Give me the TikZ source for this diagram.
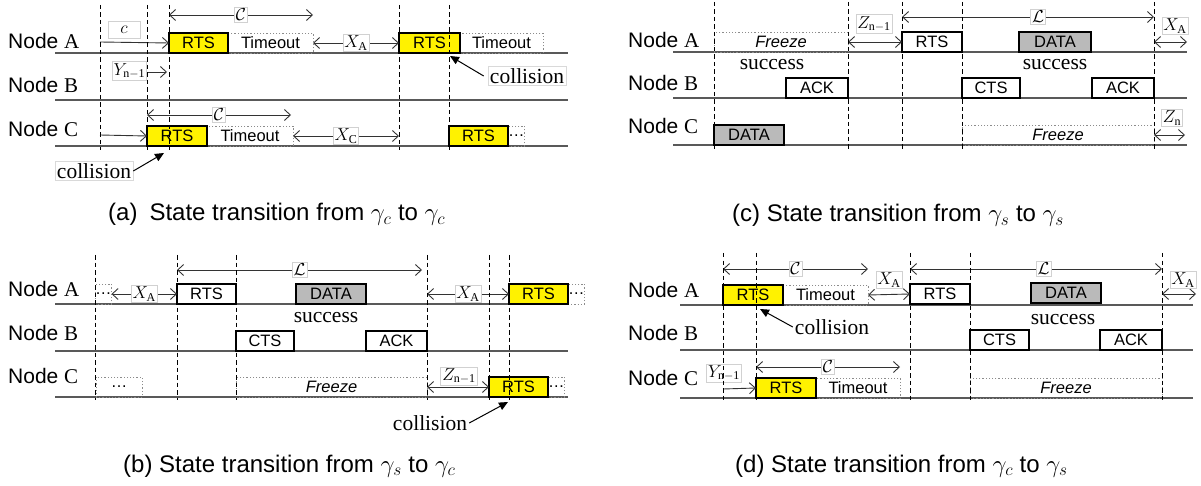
\documentclass[tikz,border=0pt]{standalone}
\usepackage{fontspec}
\setmainfont{Liberation Serif}
\newfontfamily\arial{Liberation Sans}
\usetikzlibrary{arrows.meta}
\tikzset{
 tl/.style={draw=black!65, line width=1.2pt},
 dv/.style={draw=black, line width=0.9pt, dash pattern=on 4.5pt off 3pt},
 pkt/.style={draw=black, line width=1.2pt, inner sep=0pt, outer sep=0pt, minimum height=20pt, font=\arial\fontsize{16.5}{18}\selectfont},
 yel/.style={pkt, fill=yellow},
 wht/.style={pkt, fill=white},
 gry/.style={pkt, fill=black!27},
 dotbox/.style={pkt, draw=black!45, dotted, line width=0.8pt},
 dimarr/.style={draw=black!80, line width=0.9pt, {Straight Barb[length=6pt,width=11pt]}-{Straight Barb[length=6pt,width=11pt]}},
 rdimarr/.style={draw=black!80, line width=0.9pt, -{Straight Barb[length=6pt,width=11pt]}},
 lab/.style={fill=white, draw=black!18, line width=0.6pt, inner sep=1.5pt, font=\fontsize{17.28}{19}\selectfont},
 nodel/.style={anchor=west, font=\arial\fontsize{21}{24}\selectfont, inner sep=0pt},
 wordlab/.style={font=\fontsize{21.5}{24}\selectfont, inner sep=2pt},
 capt/.style={anchor=base west, font=\arial\fontsize{24}{28}\selectfont, inner sep=0pt},
 collarr/.style={draw=black, line width=1pt, -{Triangle[length=9pt,width=8pt]}},
}
\newcommand\pktbox[6]{\node[#1, anchor=south west, minimum width={(#4-#3)*1pt}] (#2) at (#3,#5) {#6};}
\begin{document}
\begin{tikzpicture}[x=1pt,y=-1pt]
\useasboundingbox (0,0) rectangle (1201,486);
% ================= panel (a)
\node[nodel] (aNA) at (8,41) {Node {\rmfamily A}};
\node[nodel] (aNB) at (8,85) {Node {\rmfamily B}};
\node[nodel] (aNC) at (8,129) {Node {\rmfamily C}};
\draw[tl] (55,53) -- (568,53);
\draw[tl] (55,100) -- (568,100);
\draw[tl] (55,146) -- (568,146);
\pktbox{dotbox}{aT1}{228}{313}{53}{Timeout}
\pktbox{yel}{aR1}{169}{228}{53}{RTS}
\pktbox{dotbox}{aT2}{460}{543}{53}{Timeout}
\pktbox{yel}{aR2}{399}{460}{53}{RTS}
\pktbox{dotbox}{aT3}{207}{293}{146}{Timeout}
\pktbox{yel}{aR3}{147}{207}{146}{RTS}
\pktbox{dotbox}{aE4}{508}{523}{146}{\ldots}
\pktbox{yel}{aR4}{449}{508}{146}{RTS}
\draw[dimarr] (169,15) -- (313,15) node[lab, midway] (aL1) {$\mathcal{C}$};
\coordinate (ac0) at (100,42);
\draw[rdimarr] (ac0) -- (aR1.west);
\node[lab, minimum width=32pt, minimum height=17pt] (ac) at (124,30) {$c$};
\draw[dimarr] (aT1.east) -- (aR2.west) node[lab, midway] (aXA) {$X_{\mathrm{A}}$};
\node[lab, anchor=east] (aY) at (147,71) {$Y_{\mathrm{n-1}}$};
\coordinate (aY1) at (167,72);
\draw[rdimarr] (aY.east |- aY1) -- (aY1);
\node[wordlab, draw=black!15, line width=0.6pt] (acol1) at (527,76) {collision};
\coordinate (acolt1) at (450,56);
\draw[collarr] ([xshift=-4pt]acol1.west) -- (acolt1);
\draw[dimarr] (147,115) -- (291,115) node[lab, midway] (aL2) {$\mathcal{C}$};
\coordinate (ac1) at (100,135);
\draw[rdimarr] (ac1) -- (aR3.west);
\draw[dimarr] (aT3.east) -- (aR2.west |- aT3.east) node[lab, midway] (aXC) {$X_{\mathrm{C}}$};
\node[wordlab, draw=black!15, line width=0.6pt] (acol2) at (94,171) {collision};
\coordinate (acolt2) at (164,153);
\draw[collarr] (acol2.east) -- (acolt2);
\foreach \x in {100,147,169,399,449} \draw[dv] (\x,5) -- (\x,150);
\node[capt] (acap) at (108,221) {(a)\enspace State transition from $\gamma_c$ to $\gamma_c$};
% ================= panel (c)
\node[nodel] (cNA) at (628,40) {Node {\rmfamily A}};
\node[nodel] (cNB) at (628,83) {Node {\rmfamily B}};
\node[nodel] (cNC) at (628,126) {Node {\rmfamily C}};
\draw[tl] (673,52) -- (1187,52);
\draw[tl] (673,98) -- (1187,98);
\draw[tl] (673,145) -- (1187,145);
\pktbox{dotbox}{cF1}{714}{848}{52}{\itshape Freeze}
\pktbox{wht}{cK1}{786}{848}{98}{ACK}
\pktbox{gry}{cD1}{714}{784}{145}{DATA}
\pktbox{wht}{cR}{902}{962}{52}{RTS}
\pktbox{gry}{cD2}{1019}{1091}{52}{DATA}
\pktbox{wht}{cC}{962}{1020}{98}{CTS}
\pktbox{wht}{cK2}{1092}{1154}{98}{ACK}
\pktbox{dotbox}{cF2}{962}{1154}{145}{\itshape Freeze}
\node[wordlab] (cs1) at (772,65) {success};
\node[wordlab] (cs2) at (1055,65) {success};
\draw[dimarr] (cF1.east |- cR.west) -- (cR.west);
\node[lab] (cZ1) at (874,24) {$Z_{\mathrm{n-1}}$};
\draw[dimarr] (902,17) -- (1154,17) node[lab, pos=0.54] (cL) {$\mathcal{L}$};
\coordinate (cXe) at (1187,42);
\draw[dimarr] (cK2.east |- cXe) -- (cXe);
\node[lab] (cXA) at (1175,26) {$X_{\mathrm{A}}$};
\coordinate (cZe) at (1185,135);
\draw[dimarr] (cF2.east |- cZe) -- (cZe);
\node[lab] (cZn) at (1172,118) {$Z_{\mathrm{n}}$};
\foreach \x in {714,848,902,962,1154} \draw[dv] (\x,2) -- (\x,150);
\node[capt] (ccap) at (732,222) {(c) State transition from $\gamma_s$ to $\gamma_s$};
% ================= panel (b)
\node[nodel] (bNA) at (8,289) {Node {\rmfamily A}};
\node[nodel] (bNB) at (8,333) {Node {\rmfamily B}};
\node[nodel] (bNC) at (8,376) {Node {\rmfamily C}};
\draw[tl] (55,304) -- (568,304);
\draw[tl] (55,351) -- (568,351);
\draw[tl] (55,397) -- (568,397);
\pktbox{dotbox}{bE1}{95}{111}{304}{\ldots}
\pktbox{wht}{bR1}{177}{236}{304}{RTS}
\pktbox{gry}{bD}{296}{366}{304}{DATA}
\pktbox{wht}{bC}{236}{294}{351}{CTS}
\pktbox{wht}{bK}{366}{427}{351}{ACK}
\pktbox{dotbox}{bE2}{568}{583}{304}{\ldots}
\pktbox{yel}{bR2}{509}{568}{304}{RTS}
\pktbox{dotbox}{bE3}{96}{142}{397}{\ldots}
\pktbox{dotbox}{bF}{236}{427}{397}{\itshape Freeze}
\pktbox{dotbox}{bE4}{548}{563}{397}{\ldots}
\pktbox{yel}{bR3}{489}{548}{397}{RTS}
\node[wordlab] (bs) at (326,318) {success};
\draw[dimarr] (bE1.east) -- (bR1.west) node[lab, midway] (bXA1) {$X_{\mathrm{A}}$};
\draw[dimarr] (177,270) -- (422,270) node[lab, midway] (bL) {$\mathcal{L}$};
\draw[dimarr] (bK.east |- bR2.west) -- (bR2.west) node[lab, midway] (bXA2) {$X_{\mathrm{A}}$};
\draw[dimarr] (bF.east) -- (bR3.west);
\node[lab] (bZ) at (459,376) {$Z_{\mathrm{n-1}}$};
\node[wordlab] (bcol) at (430,423) {collision};
\coordinate (bcolt) at (508,402);
\draw[collarr] (bcol.east) -- (bcolt);
\foreach \x in {95,177,236,427,489,509} \draw[dv] (\x,255) -- (\x,400);
\node[capt] (bcap) at (123,472) {(b) State transition from $\gamma_s$ to $\gamma_c$};
% ================= panel (d)
\node[nodel] (dNA) at (628,290) {Node {\rmfamily A}};
\node[nodel] (dNB) at (628,333) {Node {\rmfamily B}};
\node[nodel] (dNC) at (628,378) {Node {\rmfamily C}};
\draw[tl] (680,305) -- (1193,305);
\draw[tl] (680,350) -- (1193,350);
\draw[tl] (680,398) -- (1193,398);
\pktbox{dotbox}{dT1}{783}{868}{305}{Timeout}
\pktbox{yel}{dR1}{723}{783}{305}{RTS}
\pktbox{wht}{dR2}{910}{970}{304}{RTS}
\pktbox{gry}{dD}{1031}{1101}{303}{DATA}
\pktbox{wht}{dC}{970}{1029}{350}{CTS}
\pktbox{wht}{dK}{1100}{1162}{350}{ACK}
\pktbox{dotbox}{dT2}{816}{900}{398}{Timeout}
\pktbox{yel}{dR3}{756}{816}{398}{RTS}
\pktbox{dotbox}{dF}{970}{1162}{398}{\itshape Freeze}
\node[wordlab] (ds) at (1063,320) {success};
\draw[dimarr] (723,269) -- (868,269) node[lab, midway] (dL1) {$\mathcal{C}$};
\draw[dimarr] (dT1.east) -- (dR2.west);
\node[lab] (dXA1) at (889,280) {$X_{\mathrm{A}}$};
\node[wordlab] (dcol) at (832,327) {collision};
\coordinate (dcolt) at (760,309);
\draw[collarr] (dcol.west) -- (dcolt);
\draw[dimarr] (756,367) -- (900,367) node[lab, midway] (dL2) {$\mathcal{C}$};
\node[lab] (dY) at (724,373) {$Y_{\mathrm{n-1}}$};
\coordinate (dY0) at (723,389);
\draw[rdimarr] (dY0) -- (dR3.west);
\draw[dimarr] (910,269) -- (1162,269) node[lab, pos=0.53] (dL3) {$\mathcal{L}$};
\coordinate (dXe) at (1196,294);
\draw[dimarr] (dK.east |- dXe) -- (dXe);
\node[lab] (dXA2) at (1183,280) {$X_{\mathrm{A}}$};
\foreach \x in {723,756,910,970,1162} \draw[dv] (\x,253) -- (\x,400);
\node[capt] (dcap) at (735,472) {(d) State transition from $\gamma_c$ to $\gamma_s$};
\end{tikzpicture}
\end{document}
